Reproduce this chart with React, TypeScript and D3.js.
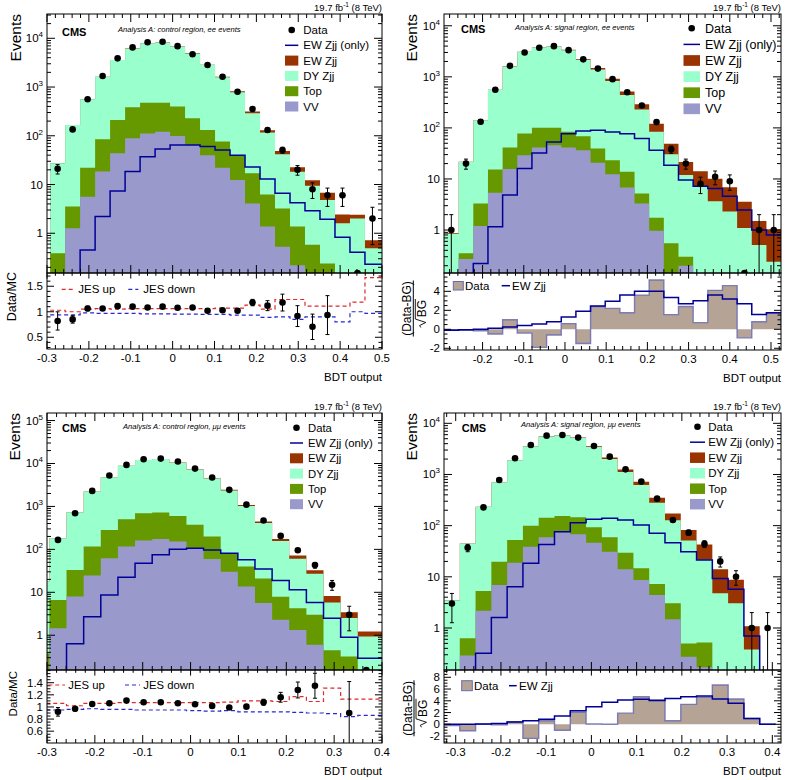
import React from "react";
import * as d3 from "d3";

const FONT = "'Liberation Sans', Arial, Helvetica, sans-serif";

// ---------------- Panel 1: control region, ee ----------------
const P1_DATA: (number | null)[] = [21, 135, 560, 1680, 3880, 6500, 8300, 8500, 6900, 4700, 2830, 1630, 800, 355, 131, 51, 20, 8, 6, 6, 0, 2];
const P1_VV = [0.08, 1.27, 5.6, 18.4, 43.7, 88.7, 112, 121, 99, 65, 40, 22, 12.4, 4.1, 1.37, 0.53, 0.22, 0.1, 0.05, 0.02, 0.02, 0.02];
const P1_TOP = [0.31, 2.25, 16.4, 66.6, 167, 295, 366, 357, 298, 164, 92, 54, 27.6, 12.9, 4.9, 2.7, 1.15, 0.48, 0.19, 0.13, 0.08, 0.03];
const P1_DY = [26.9, 163.5, 538, 1545, 3370, 5816, 7392, 7652, 6333, 4671, 2688, 1504, 740, 273, 110, 38.7, 17, 8.8, 4.6, 1.45, 1.9, 0.44];
const P1_EW = [0.05, 0.12, 0.455, 2.2, 7.4, 18.4, 37, 53.7, 65, 65, 60, 51, 40, 23, 13, 6.6, 4.25, 2.9, 1.94, 0.83, 0.41, 0.23];
const P1_RATIO: (number | null)[] = [0.82, 0.85, 1.065, 1.065, 1.11, 1.1, 1.085, 1.1, 1.08, 1.085, 1.02, 1.03, 1.02, 1.18, 1.12, 1.18, 0.915, 0.705, 0.935, null, null, null];
const P1_JES_UP = [1.03, 1.0, 1.05, 1.06, 1.05, 1.06, 1.06, 1.06, 1.06, 1.06, 1.06, 1.07, 1.07, 1.13, 1.05, 1.24, 1.24, 1.11, 1.11, 1.11, 1.19, 1.67];
const P1_JES_DOWN = [0.94, 0.94, 0.98, 0.97, 0.97, 0.97, 0.96, 0.96, 0.955, 0.955, 0.95, 0.95, 0.935, 0.935, 0.89, 0.9, 0.85, 0.9, 0.9, 0.8, 1.0, 0.97];

// ---------------- Panel 2: signal region, ee ----------------
const P2_DATA: (number | null)[] = [1, 20, 132, 560, 1640, 3000, 3700, 3990, 3330, 2200, 1450, 900, 500, 275, 130, 38, 20, 8, 11, 9, 0, 1, 1];
const P2_VV = [0.02, 0.27, 1.2, 5.37, 15.6, 29.2, 41.3, 45.7, 41.3, 36.6, 20.7, 12.4, 6.8, 3.3, 0.97, 0.1, 0.2, 0.03, 0.02, 0.02, 0.01, 0.01, 0.01];
const P2_TOP = [0.03, 0.08, 2.1, 9.9, 25.7, 48.3, 59.7, 55.3, 42.3, 32.1, 18.8, 10.9, 7.0, 1.9, 0.77, 0.45, 0.1, 0.02, 0.02, 0.01, 0.01, 0.01, 0.01];
const P2_DY = [0.8, 21.3, 138, 545, 1560, 3020, 3700, 3850, 3220, 2080, 1360, 807, 426, 223, 82, 30, 11.6, 6.9, 3.6, 2.28, 1.08, 0.49, 0.22];
const P2_EW = [0.02, 0.06, 0.22, 1.16, 4.83, 16, 32.4, 53, 77, 87, 90, 83, 77, 62, 36.6, 18.6, 9.5, 7.2, 6.5, 4.6, 2.46, 1.0, 0.8];
const P2_SIG_DATA = [-0.05, -0.1, -0.15, -0.5, 1.0, -0.4, -1.9, -0.6, 0.6, -1.5, 2.4, 2.2, 1.75, 3.6, 5.2, 1.55, 2.4, 0.7, 4.1, 4.6, -0.9, 0.8, 1.7];
const P2_SIG_EW = [-0.1, -0.05, 0.0, 0.1, 0.25, 0.4, 0.55, 0.8, 1.3, 1.9, 2.45, 2.95, 3.6, 4.0, 4.0, 3.35, 2.7, 3.0, 3.6, 3.2, 2.7, 1.55, 1.75];

// ---------------- Panel 3: control region, mumu ----------------
const P3_DATA: (number | null)[] = [null, 166, 695, 2300, 5250, 9270, 12600, 13000, 11100, 7600, 4700, 2430, 1100, 470, 206, 95, 43, 15, 3, 0];
const P3_VV = [0.1, 1.46, 8, 24.5, 62, 116, 160, 175, 152, 106, 60, 30, 13.6, 5.6, 2.28, 1.33, 0.6, 0.1, 0.05, 0.02];
const P3_TOP = [0.28, 5.2, 25, 91.5, 222, 386, 535, 545, 450, 266, 139, 51, 26.4, 15.4, 5.6, 2.9, 2.4, 0.35, 0.27, 0.06];
const P3_DY = [17.4, 175, 699, 2100, 4500, 8375, 11360, 12000, 9800, 6870, 4244, 2268, 989, 388, 148, 56, 24, 5.3, 2.2, 0.85];
const P3_EW = [0, 0.02, 0.63, 2.7, 8.7, 22.4, 47.5, 74.5, 101, 106, 97, 81, 57, 35, 18.8, 11.4, 5.76, 2.49, 0.9, 0.29];
const P3_RATIO: (number | null)[] = [null, 0.92, 0.97, 1.05, 1.06, 1.105, 1.077, 1.077, 1.06, 1.044, 1.017, 0.99, 1.005, 1.077, 1.16, 1.28, 1.35, null, 0.9, null];
const P3_JES_UP = [1.06, 1.06, 1.02, 1.06, 1.06, 1.07, 1.07, 1.07, 1.07, 1.07, 1.07, 1.08, 1.1, 1.1, 1.09, 1.17, 1.09, 1.31, 1.13, 1.13];
const P3_JES_DOWN = [0.95, 0.95, 0.96, 0.97, 0.96, 0.96, 0.95, 0.95, 0.95, 0.94, 0.93, 0.94, 0.92, 0.92, 0.92, 0.91, 0.9, 0.89, 0.84, 0.86];

// ---------------- Panel 4: signal region, mumu ----------------
const P4_DATA: (number | null)[] = [3, 37, 228, 780, 2070, 3770, 5740, 5920, 5260, 3600, 2230, 1260, 725, 337, 129, 73, 44, 20, 10, 1, 1];
const P4_VV = [0.05, 0.29, 2.18, 6.9, 18.9, 38.9, 59, 74, 68, 46.5, 31, 14, 8.7, 4.4, 1.48, 0.275, 0.17, 0.03, 0.02, 0.01, 0];
const P4_TOP = [0.03, 0.34, 3.1, 12.9, 33.6, 61, 84, 81, 78, 46.5, 28, 15.7, 6.0, 2.8, 1.55, 0.22, 0.35, 0.02, 0.01, 0.01, 0];
const P4_DY = [3.4, 44.3, 229, 679, 1840, 3480, 5410, 5670, 5040, 3374, 1950, 1090, 607, 274, 124, 50.5, 21, 4.7, 3.0, 0.36, 0];
const P4_EW = [0.03, 0.1, 0.32, 1.6, 6.4, 18.4, 43, 76, 114, 133, 139, 129, 103, 71, 46.5, 31, 21.4, 9.3, 5.7, 0.7, 0];
const P4_SIG_DATA = [-0.2, -1.1, 0.0, -0.1, 0.45, -2.4, 0.6, -1.0, 2.05, 0.05, 0.0, 1.9, 4.7, 4.15, 0.6, 3.4, 4.6, 6.7, 4.3, 1.0, 0.0];
const P4_SIG_EW = [0.0, 0.0, 0.05, 0.15, 0.4, 0.6, 0.85, 1.4, 2.3, 3.0, 3.75, 4.15, 4.25, 4.05, 4.4, 4.7, 4.8, 4.3, 3.6, 1.0, 0.0];

const LEGEND_LABELS = ["Data", "EW Zjj (only)", "EW Zjj", "DY Zjj", "Top", "VV"];

const C = {
  ew: "#993300",
  dy: "#99ffcc",
  top: "#669900",
  vv: "#9999cc",
  ewLine: "#000099",
  sig: "#b5a396",
  sigEdge: "#6b6bb0",
  jesUp: "#e02828",
  jesDown: "#2828d0",
};

type PanelCfg = any;

const PANELS: PanelCfg[] = [
  {
    key: "p1", x0: 47, x1: 382, top: 14, mid: 273, bot: 349,
    xDomain: [-0.3, 0.5], binStart: -0.2925, binWidth: 0.0358, lastEdge: 0.5,
    yMain: [0.153, 31500],
    data: P1_DATA, vv: P1_VV, tp: P1_TOP, dy: P1_DY, ew: P1_EW,
    label: "Analysis A: control region, ee events",
    kind: "ratio", yLow: [0.27, 1.76], lowMajors: [0.5, 1, 1.5], lowMinor: 0.1,
    ratio: P1_RATIO, jesUp: P1_JES_UP, jesDown: P1_JES_DOWN,
    cms: [62, 36], ana: [118, 31.7], evX: 20.5,
    leg: { mx: 291.7, bx: 285, bw: 13.3, bh: 10, tx: 303.3, y0: 30, step: 15.3, fs: 11.5 },
    lowTitle: { x: 15.5, y: 272, fs: 12.5 },
    jesLeg: { y: 289.3, r: [61.7, 75], rt: 78.3, b: [128.3, 138.3], bt: 143.3, fs: 11.5 },
  },
  {
    key: "p2", x0: 444, x1: 781, top: 14, mid: 273, bot: 350,
    xDomain: [-0.2936, 0.5243], binStart: -0.2936, binWidth: 0.03557, lastEdge: null,
    yMain: [0.144, 17000],
    data: P2_DATA, vv: P2_VV, tp: P2_TOP, dy: P2_DY, ew: P2_EW,
    label: "Analysis A: signal region, ee events",
    kind: "signif", yLow: [-2.18, 5.93], lowMajors: [-2, 0, 2, 4], lowMinor: 0.5,
    sigData: P2_SIG_DATA, sigEw: P2_SIG_EW,
    cms: [461, 33], ana: [515, 30.4], evX: 416.7,
    leg: { mx: 691.7, bx: 683.5, bw: 16.5, bh: 10.7, tx: 705, y0: 28.3, step: 16.1, fs: 12.5 },
    frac: { bx: 413.3, cy: 308.5, fs: 12 },
    sigLeg: { bx: 453.3, by: 281.5, bw: 10, bh: 8.5, dt: 465, l: [501.7, 510], et: 512, y: 285.7, fs: 11.5 },
  },
  {
    key: "p3", x0: 47, x1: 382, top: 413, mid: 670, bot: 743,
    xDomain: [-0.3, 0.4], binStart: -0.3308, binWidth: 0.0358, lastEdge: 0.4,
    yMain: [0.155, 150000],
    data: P3_DATA, vv: P3_VV, tp: P3_TOP, dy: P3_DY, ew: P3_EW,
    label: "Analysis A: control region, \u03bc\u03bc events",
    kind: "ratio", yLow: [0.405, 1.61], lowMajors: [0.6, 0.8, 1, 1.2, 1.4], lowMinor: 0.05,
    ratio: P3_RATIO, jesUp: P3_JES_UP, jesDown: P3_JES_DOWN,
    cms: [62, 431.7], ana: [123, 429.4], evX: 20,
    leg: { mx: 296.5, bx: 290, bw: 13, bh: 10, tx: 308, y0: 427.7, step: 15.3, fs: 11.3 },
    lowTitle: { x: 16.5, y: 671, fs: 11.5 },
    jesLeg: { y: 685, r: [48.3, 65], rt: 68.3, b: [125, 140], bt: 143.3, fs: 11.3 },
  },
  {
    key: "p4", x0: 444, x1: 781, top: 413, mid: 670, bot: 743,
    xDomain: [-0.3259, 0.4192], binStart: -0.3259, binWidth: 0.0349, lastEdge: null,
    yMain: [0.151, 15900],
    data: P4_DATA, vv: P4_VV, tp: P4_TOP, dy: P4_DY, ew: P4_EW,
    label: "Analysis A: signal region, \u03bc\u03bc events",
    kind: "signif", yLow: [-3.18, 9.24], lowMajors: [-2, 0, 2, 4, 6, 8], lowMinor: 0.5,
    sigData: P4_SIG_DATA, sigEw: P4_SIG_EW,
    cms: [461.7, 431.7], ana: [521, 427], evX: 416.7,
    leg: { mx: 697.5, bx: 690, bw: 15, bh: 10.5, tx: 708.3, y0: 426.7, step: 15.5, fs: 11.5 },
    frac: { bx: 414, cy: 708.3, fs: 12 },
    sigLeg: { bx: 461.7, by: 680.7, bw: 10.6, bh: 10, dt: 474, l: [509, 516.7], et: 519, y: 685.7, fs: 11.5 },
  },
];

function xTickVals(dom: number[]) {
  const out: { v: number; major: boolean }[] = [];
  const k0 = Math.ceil(dom[0] / 0.02 - 1e-6);
  const k1 = Math.floor(dom[1] / 0.02 + 1e-6);
  for (let k = k0; k <= k1; k++) out.push({ v: k * 0.02, major: k % 5 === 0 });
  return out;
}

function fmtX(v: number) {
  if (Math.abs(v) < 1e-9) return "0";
  return v.toFixed(1);
}

function PanelView({ p }: { p: PanelCfg }) {
  const n = p.vv.length;
  const edges = d3.range(n + 1).map((k) => (k === n && p.lastEdge != null ? p.lastEdge : p.binStart + k * p.binWidth));
  const centers = d3.range(n).map((k) => p.binStart + (k + 0.5) * p.binWidth);
  const x = d3.scaleLinear().domain(p.xDomain).range([p.x0, p.x1]);
  const y = d3.scaleLog().domain(p.yMain).range([p.mid, p.top]);
  const below = p.mid + 4;
  const Y = (v: number) => (v > p.yMain[0] ? y(v) : below);

  const c1 = p.vv.map((v: number) => v);
  const c2 = c1.map((v: number, k: number) => v + p.tp[k]);
  const c3 = c2.map((v: number, k: number) => v + p.dy[k]);
  const c4 = c3.map((v: number, k: number) => v + p.ew[k]);

  const fillPath = (vals: number[]) => {
    let d = `M${x(edges[0])},${below}`;
    vals.forEach((v, k) => {
      d += `L${x(edges[k])},${Y(v)}L${x(edges[k + 1])},${Y(v)}`;
    });
    d += `L${x(edges[n])},${below}Z`;
    return d;
  };
  const stepLine = (vals: number[], fy: (v: number) => number) =>
    vals.map((v, k) => `${k === 0 ? "M" : "L"}${x(edges[k])},${fy(v)}L${x(edges[k + 1])},${fy(v)}`).join("");

  const layers = [
    { vals: c4, color: C.ew },
    { vals: c3, color: C.dy },
    { vals: c2, color: C.top },
    { vals: c1, color: C.vv },
  ];

  const xt = xTickVals(p.xDomain);
  const logTicks: { v: number; major: boolean; d: number }[] = [];
  for (let d = Math.floor(Math.log10(p.yMain[0])); d <= Math.ceil(Math.log10(p.yMain[1])); d++) {
    for (let m = 1; m <= 9; m++) {
      const v = m * Math.pow(10, d);
      if (v >= p.yMain[0] && v <= p.yMain[1]) logTicks.push({ v, major: m === 1, d });
    }
  }

  const yl = d3.scaleLinear().domain(p.yLow).range([p.bot, p.mid]);
  const lowTicks: { v: number; major: boolean }[] = [];
  {
    const s = p.lowMinor;
    const k0 = Math.ceil(p.yLow[0] / s - 1e-6);
    const k1 = Math.floor(p.yLow[1] / s + 1e-6);
    for (let k = k0; k <= k1; k++) {
      const v = k * s;
      lowTicks.push({ v, major: p.lowMajors.some((m: number) => Math.abs(m - v) < 1e-6) });
    }
  }

  const clipMain = `clipmain-${p.key}`;
  const clipLow = `cliplow-${p.key}`;
  const W = p.x1 - p.x0;

  // Data points for the main plot
  const points = (p.data as (number | null)[]).map((d, k) => {
    if (d === null) return null;
    const cx = x(centers[k]);
    if (d <= 0) return { cx, cy: p.mid, hi: null, lo: null };
    const e = Math.sqrt(d);
    return { cx, cy: y(d), hi: y(d + e), lo: Y(d - e) };
  });

  const ev = p.leg;
  const legRows = LEGEND_LABELS.map((lab, i) => ({ lab, yy: ev.y0 + i * ev.step }));

  return (
    <g>
      <defs>
        <clipPath id={clipMain}>
          <rect x={p.x0} y={p.top} width={W} height={p.mid - p.top} />
        </clipPath>
        <clipPath id={clipLow}>
          <rect x={p.x0} y={p.mid} width={W} height={p.bot - p.mid} />
        </clipPath>
      </defs>

      {/* ---------- main plot ---------- */}
      <g clipPath={`url(#${clipMain})`}>
        {layers.map((l, i) => (
          <path key={i} d={fillPath(l.vals)} fill={l.color} stroke="none" />
        ))}
        <path d={stepLine(p.ew, Y)} fill="none" stroke={C.ewLine} strokeWidth={1.5} />
        {points.map((pt, k) =>
          pt ? (
            <g key={k}>
              {pt.hi !== null && (
                <g stroke="#000" strokeWidth={1}>
                  <line x1={pt.cx} x2={pt.cx} y1={pt.hi} y2={pt.lo} />
                  <line x1={pt.cx - 2} x2={pt.cx + 2} y1={pt.hi} y2={pt.hi} />
                  <line x1={pt.cx - 2} x2={pt.cx + 2} y1={pt.lo} y2={pt.lo} />
                </g>
              )}
              <circle cx={pt.cx} cy={pt.cy} r={3.3} fill="#000" />
            </g>
          ) : null
        )}
      </g>

      {/* main frame + ticks */}
      <rect x={p.x0} y={p.top} width={W} height={p.mid - p.top} fill="none" stroke="#000" strokeWidth={1} />
      <g stroke="#000" strokeWidth={1}>
        {xt.map((t, i) => {
          const L = t.major ? 8 : 4;
          const xx = x(t.v);
          return (
            <g key={i}>
              <line x1={xx} x2={xx} y1={p.mid} y2={p.mid - L} />
              <line x1={xx} x2={xx} y1={p.top} y2={p.top + L} />
            </g>
          );
        })}
        {logTicks.map((t, i) => {
          const L = t.major ? 8 : 4;
          const yy = y(t.v);
          return (
            <g key={i}>
              <line x1={p.x0} x2={p.x0 + L} y1={yy} y2={yy} />
              <line x1={p.x1} x2={p.x1 - L} y1={yy} y2={yy} />
            </g>
          );
        })}
      </g>
      {logTicks
        .filter((t) => t.major)
        .map((t, i) => (
          <text key={i} x={p.x0 - 4} y={y(t.v) + 4} textAnchor="end" fontSize={11.5}>
            {t.d === 0 ? "1" : t.d === 1 ? "10" : (
              <>
                <tspan>10</tspan>
                <tspan dy={-5} fontSize={8}>{t.d}</tspan>
              </>
            )}
          </text>
        ))}

      {/* texts */}
      <text x={p.x1} y={p.top - 3.5} textAnchor="end" fontSize={9.5}>
        <tspan>19.7 fb</tspan>
        <tspan dy={-3.5} fontSize={6.5}>-1</tspan>
        <tspan dy={3.5}> (8 TeV)</tspan>
      </text>
      <text x={p.cms[0]} y={p.cms[1]} fontSize={11} fontWeight="bold">CMS</text>
      <text x={p.ana[0]} y={p.ana[1]} fontSize={7.6} fontStyle="italic">{p.label}</text>
      <text transform={`translate(${p.evX},${p.top}) rotate(-90)`} textAnchor="end" fontSize={15.5}>Events</text>

      {/* legend */}
      {legRows.map((r, i) => (
        <g key={i}>
          {i === 0 && <circle cx={ev.mx} cy={r.yy} r={3.3} fill="#000" />}
          {i === 1 && <line x1={ev.bx} x2={ev.bx + ev.bw} y1={r.yy} y2={r.yy} stroke={C.ewLine} strokeWidth={1.5} />}
          {i >= 2 && (
            <rect x={ev.bx} y={r.yy - ev.bh / 2} width={ev.bw} height={ev.bh}
              fill={[C.ew, C.dy, C.top, C.vv][i - 2]} />
          )}
          <text x={ev.tx} y={r.yy + ev.fs * 0.36} fontSize={ev.fs}>{r.lab}</text>
        </g>
      ))}

      {/* ---------- lower plot ---------- */}
      <g clipPath={`url(#${clipLow})`}>
        {p.kind === "ratio" && (
          <g>
            <path d={stepLine(p.jesUp, yl)} fill="none" stroke={C.jesUp} strokeWidth={1.2} strokeDasharray="4,3" />
            <path d={stepLine(p.jesDown, yl)} fill="none" stroke={C.jesDown} strokeWidth={1.2} strokeDasharray="4,3" />
            {(p.ratio as (number | null)[]).map((r, k) => {
              if (r === null) return null;
              const N = p.data[k] as number;
              const e = N > 0 ? r / Math.sqrt(N) : 0;
              const cx = x(centers[k]);
              return (
                <g key={k}>
                  <g stroke="#000" strokeWidth={1}>
                    <line x1={cx} x2={cx} y1={yl(r + e)} y2={yl(r - e)} />
                    <line x1={cx - 2} x2={cx + 2} y1={yl(r + e)} y2={yl(r + e)} />
                    <line x1={cx - 2} x2={cx + 2} y1={yl(r - e)} y2={yl(r - e)} />
                  </g>
                  <circle cx={cx} cy={yl(r)} r={3.3} fill="#000" />
                </g>
              );
            })}
          </g>
        )}
        {p.kind === "signif" && (
          <g>
            <path
              d={`M${x(edges[0])},${yl(0)}` +
                (p.sigData as number[]).map((v, k) => `L${x(edges[k])},${yl(v)}L${x(edges[k + 1])},${yl(v)}`).join("") +
                `L${x(edges[n])},${yl(0)}Z`}
              fill={C.sig}
              stroke="none"
            />
            <path
              d={`M${x(edges[0])},${yl(0)}` +
                (p.sigData as number[]).map((v, k) => `L${x(edges[k])},${yl(v)}L${x(edges[k + 1])},${yl(v)}`).join("") +
                `L${x(edges[n])},${yl(0)}`}
              fill="none"
              stroke={C.sigEdge}
              strokeWidth={1.4}
              strokeOpacity={0.85}
            />
            <path d={stepLine(p.sigEw, yl)} fill="none" stroke={C.ewLine} strokeWidth={1.5} />
          </g>
        )}
      </g>
      <rect x={p.x0} y={p.mid} width={W} height={p.bot - p.mid} fill="none" stroke="#000" strokeWidth={1} />
      <g stroke="#000" strokeWidth={1}>
        {xt.map((t, i) => {
          const L = t.major ? 8 : 4;
          const xx = x(t.v);
          return (
            <g key={i}>
              <line x1={xx} x2={xx} y1={p.bot} y2={p.bot - L} />
              <line x1={xx} x2={xx} y1={p.mid} y2={p.mid + L * 0.7} />
            </g>
          );
        })}
        {lowTicks.map((t, i) => {
          const L = t.major ? 7 : 3.5;
          const yy = yl(t.v);
          return (
            <g key={i}>
              <line x1={p.x0} x2={p.x0 + L} y1={yy} y2={yy} />
              <line x1={p.x1} x2={p.x1 - L} y1={yy} y2={yy} />
            </g>
          );
        })}
      </g>
      {xt
        .filter((t) => t.major)
        .map((t, i) => (
          <text key={i} x={x(t.v)} y={p.bot + 13} textAnchor="middle" fontSize={11.5}>{fmtX(t.v)}</text>
        ))}
      {lowTicks
        .filter((t) => t.major)
        .map((t, i) => (
          <text key={i} x={p.x0 - 4} y={yl(t.v) + 4} textAnchor="end" fontSize={11.5}>{String(Math.round(t.v * 100) / 100)}</text>
        ))}
      <text x={p.x1} y={p.bot + 32} textAnchor="end" fontSize={11.5}>BDT output</text>

      {p.kind === "ratio" && (
        <g>
          <text transform={`translate(${p.lowTitle.x},${p.lowTitle.y}) rotate(-90)`} textAnchor="end" fontSize={p.lowTitle.fs}>Data/MC</text>
          <line x1={p.jesLeg.r[0]} x2={p.jesLeg.r[1]} y1={p.jesLeg.y} y2={p.jesLeg.y} stroke={C.jesUp} strokeWidth={1.2} strokeDasharray="4,3" />
          <text x={p.jesLeg.rt} y={p.jesLeg.y + 4} fontSize={p.jesLeg.fs}>JES up</text>
          <line x1={p.jesLeg.b[0]} x2={p.jesLeg.b[1]} y1={p.jesLeg.y} y2={p.jesLeg.y} stroke={C.jesDown} strokeWidth={1.2} strokeDasharray="4,3" />
          <text x={p.jesLeg.bt} y={p.jesLeg.y + 4} fontSize={p.jesLeg.fs}>JES down</text>
        </g>
      )}
      {p.kind === "signif" && (
        <g>
          <g transform={`translate(${p.frac.bx},${p.frac.cy}) rotate(-90)`}>
            <text x={0} y={-2.5} textAnchor="middle" fontSize={p.frac.fs}>(Data-BG)</text>
            <line x1={-28} x2={28} y1={0} y2={0} stroke="#000" strokeWidth={1} />
            <text x={0} y={12.5} textAnchor="middle" fontSize={p.frac.fs}>BG</text>
            <path d="M-19,7.5 L-17,6.3 L-14,12.5 L-10.5,2 L9.5,2" fill="none" stroke="#000" strokeWidth={0.9} />
          </g>
          <rect x={p.sigLeg.bx} y={p.sigLeg.by} width={p.sigLeg.bw} height={p.sigLeg.bh} fill={C.sig} stroke={C.sigEdge} strokeWidth={1} />
          <text x={p.sigLeg.dt} y={p.sigLeg.y + 4} fontSize={p.sigLeg.fs}>Data</text>
          <line x1={p.sigLeg.l[0]} x2={p.sigLeg.l[1]} y1={p.sigLeg.y} y2={p.sigLeg.y} stroke={C.ewLine} strokeWidth={1.5} />
          <text x={p.sigLeg.et} y={p.sigLeg.y + 4} fontSize={p.sigLeg.fs}>EW Zjj</text>
        </g>
      )}
    </g>
  );
}

export default function App() {
  return (
    <div style={{ position: "absolute", left: 0, top: 0 }}>
      <svg width={793} height={780} viewBox="0 0 793 780" style={{ display: "block", background: "#fff" }} fontFamily={FONT}>
        <rect width={793} height={780} fill="#fff" />
        {PANELS.map((p) => (
          <PanelView key={p.key} p={p} />
        ))}
      </svg>
    </div>
  );
}
